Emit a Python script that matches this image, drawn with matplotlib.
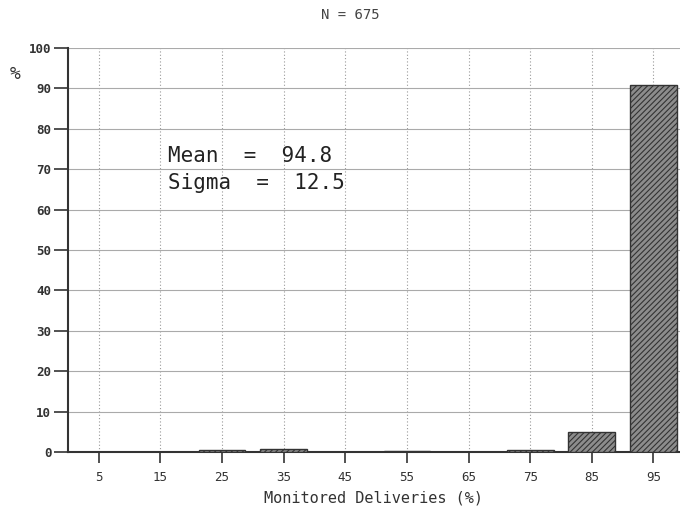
import matplotlib
matplotlib.use("Agg")
import matplotlib.pyplot as plt

categories = [5, 15, 25, 35, 45, 55, 65, 75, 85, 95]
values = [0.0, 0.0, 0.5, 0.7, 0.0, 0.2, 0.0, 0.5, 5.0, 90.8]
yticks = [0, 10, 20, 30, 40, 50, 60, 70, 80, 90, 100]

plt.rcParams['font.family'] = ['DejaVu Sans Mono']
plt.rcParams['hatch.color'] = '#3a3a3a'
plt.rcParams['hatch.linewidth'] = 0.8

fig = plt.figure(figsize=(6.8, 5.15), dpi=100)
ax = fig.add_axes([0.1, 0.1223, 0.9, 0.7845])

ax.bar(categories, values, width=7.6, facecolor='#8c8c8c', edgecolor='#333333',
       linewidth=1.0, hatch='//////', zorder=3)

ax.set_xlim(0, 99.3)
ax.set_ylim(0, 100)
ax.set_xticks(categories)
ax.set_xticklabels([str(c) for c in categories], fontsize=9, color='#333333')
ax.set_yticks(yticks)
ax.set_yticklabels([str(t) for t in yticks], fontsize=9, fontweight='bold', color='#333333')

ax.tick_params(axis='x', direction='out', length=8, width=1.2, color='#333333', pad=6)
ax.tick_params(axis='y', direction='out', length=10, width=1.2, color='#333333', pad=2)

ax.yaxis.grid(True, color='#aaaaaa', linewidth=0.8, linestyle='-', zorder=0)
ax.xaxis.grid(True, color='#999999', linewidth=0.8, linestyle=(0, (1, 2)), zorder=0)
ax.set_axisbelow(True)

for s in ['top', 'right']:
    ax.spines[s].set_visible(False)
ax.spines['left'].set_linewidth(1.5)
ax.spines['bottom'].set_linewidth(1.5)
ax.spines['left'].set_color('#333333')
ax.spines['bottom'].set_color('#333333')

ax.set_xlabel('Monitored Deliveries (%)', fontsize=11, color='#333333', labelpad=4)
ax.text(-0.087, 0.935, '%', transform=ax.transAxes, fontsize=13, color='#333333',
        ha='center', va='center')
fig.text(0.515, 0.97, 'N = 675', fontsize=10, ha='center', va='center', color='#444444')

ax.text(16.3, 73.2, 'Mean  =  94.8', fontsize=15, ha='left', va='center', color='#222222')
ax.text(16.3, 66.7, 'Sigma  =  12.5', fontsize=15, ha='left', va='center', color='#222222')

fig.savefig('out.png', dpi=100, facecolor='white')
